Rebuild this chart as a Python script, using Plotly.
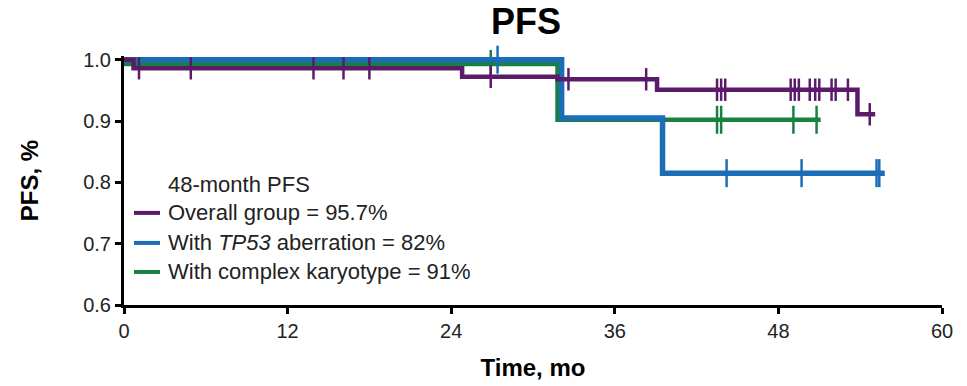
import plotly.graph_objects as go
import numpy as np

# ---- data ----
overall_t = [0, 0.7, 24.8, 31.8, 39.1, 53.8, 55.1]
overall_s = [1.0, 0.986, 0.972, 0.968, 0.951, 0.911, 0.911]
overall_cens = [1.1, 4.9, 13.9, 16.1, 18.0, 26.9, 32.6, 38.3, 43.5, 43.8, 44.1,
                48.9, 49.2, 49.5, 50.3, 50.7, 51.0, 51.9, 52.2, 53.1, 54.7]

tp53_t = [0, 32.1, 39.5, 55.8]
tp53_s = [1.0, 0.905, 0.815, 0.815]
tp53_cens = [27.4, 44.2, 49.7, 55.2, 55.4]

ck_t = [0, 31.8, 51.1]
ck_s = [0.993, 0.902, 0.902]
ck_cens = [26.9, 43.5, 43.8, 49.1, 50.8]

legend_title = "48-month PFS"
labels = ["Overall group = 95.7%", "With <i>TP53</i> aberration = 82%", "With complex karyotype = 91%"]
x_ticks = [0, 12, 24, 36, 48, 60]
y_ticks = [0.6, 0.7, 0.8, 0.9, 1.0]

PURPLE = "#5C1A6A"
BLUE = "#1B6DB8"
GREEN = "#17823F"
FONT = "Liberation Sans, Arial, sans-serif"


def step_value(ts, ss, t):
    idx = np.searchsorted(np.array(ts), t, side="right") - 1
    return ss[max(idx, 0)]


fig = go.Figure()

series = [
    (ck_t, ck_s, ck_cens, GREEN, 4.5, 20),
    (tp53_t, tp53_s, tp53_cens, BLUE, 5.5, 20),
    (overall_t, overall_s, overall_cens, PURPLE, 4.5, 16),
]
for ts, ss, cens, col, lw, msize in series:
    fig.add_trace(go.Scatter(x=ts, y=ss, mode="lines", line=dict(color=col, width=lw, shape="hv"),
                             showlegend=False, hoverinfo="skip"))
    fig.add_trace(go.Scatter(x=cens, y=[step_value(ts, ss, c) for c in cens], mode="markers",
                             marker=dict(symbol="line-ns", size=msize, line=dict(color=col, width=2.5)),
                             showlegend=False, cliponaxis=False, hoverinfo="skip"))

# legend drawn as annotations + sample lines
W0, W1 = 124, 942
T0, B0 = 56.3, 305


def px(xp):
    return (xp - W0) / (W1 - W0)


def py(yp):
    return (B0 - yp) / (B0 - T0)


fig.add_annotation(x=px(166), y=py(185), xref="paper", yref="paper", text=legend_title,
                   showarrow=False, xanchor="left", yanchor="middle",
                   font=dict(family=FONT, size=22, color="#222"))
rows = [213, 243, 272]
for lab, col, ry in zip(labels, [PURPLE, BLUE, GREEN], rows):
    fig.add_shape(type="line", xref="paper", yref="paper", x0=px(134), x1=px(160), y0=py(ry), y1=py(ry),
                  line=dict(color=col, width=4))
    fig.add_annotation(x=px(166), y=py(ry), xref="paper", yref="paper", text=lab,
                       showarrow=False, xanchor="left", yanchor="middle",
                       font=dict(family=FONT, size=22, color="#222"))

fig.update_layout(
    width=967, height=386,
    margin=dict(l=W0, r=967 - W1, t=T0, b=386 - B0, autoexpand=False),
    paper_bgcolor="white", plot_bgcolor="white",
    title=dict(text="<b>PFS</b>", x=px(526), xref="paper", xanchor="center",
               y=1 - 21 / 386, yref="container", yanchor="middle",
               font=dict(family=FONT, size=36, color="black")),
    font=dict(family=FONT, color="#222"),
)
fig.update_xaxes(range=[0, 60], tickvals=x_ticks, ticktext=[str(v) for v in x_ticks], automargin=False,
                 showgrid=False, zeroline=False, showline=True, linecolor="black", linewidth=3,
                 ticks="outside", ticklen=6, tickwidth=3, tickcolor="black",
                 tickfont=dict(family=FONT, size=20, color="#222"),
                 title=dict(text="<b>Time, mo</b>", font=dict(family=FONT, size=24, color="black"), standoff=19))
fig.update_yaxes(range=[0.6, 1.006], tickvals=y_ticks, ticktext=[f"{v:.1f}" for v in y_ticks], automargin=False,
                 showgrid=False, zeroline=False, showline=True, linecolor="black", linewidth=3,
                 ticks="outside", ticklen=6, tickwidth=3, tickcolor="black",
                 tickfont=dict(family=FONT, size=20, color="#222"),
                 title=dict(text="<b>PFS, %</b>", font=dict(family=FONT, size=24, color="black"), standoff=38))

fig.write_html("out.html")
